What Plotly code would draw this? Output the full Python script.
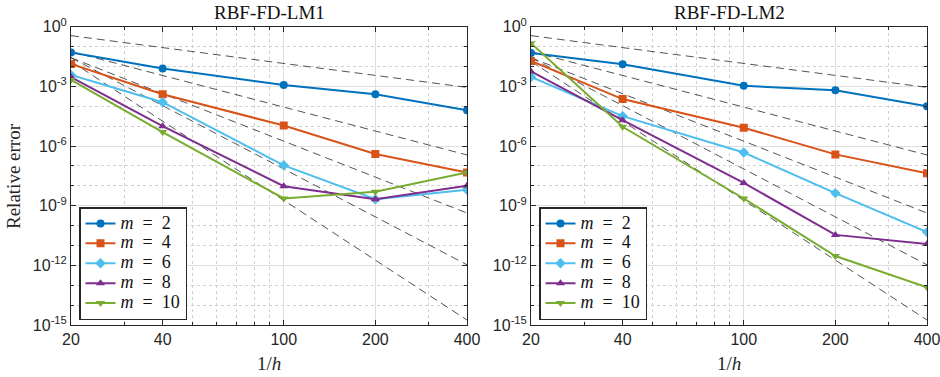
import plotly.graph_objects as go

N = [20, 40, 100, 200, 400]
m_labels = ["2", "4", "6", "8", "10"]
colors = ["#0072BD", "#D95319", "#4DBEEE", "#7E2F8E", "#77AC30"]
symbols = ["circle", "square", "diamond", "triangle-up", "triangle-down"]

lm1_m2 = [5.0e-2, 7.9e-3, 1.17e-3, 4.0e-4, 6.3e-5]
lm1_m4 = [1.35e-2, 4.0e-4, 1.07e-5, 4.0e-7, 4.7e-8]
lm1_m6 = [3.7e-3, 1.6e-4, 1.07e-7, 2.1e-9, 6.3e-9]
lm1_m8 = [2.95e-3, 1.0e-5, 9.5e-9, 2.1e-9, 1.0e-8]
lm1_m10 = [2.1e-3, 5.0e-6, 2.3e-9, 5.0e-9, 4.7e-8]

lm2_m2 = [4.7e-2, 1.3e-2, 1.07e-3, 6.3e-4, 1.0e-4]
lm2_m4 = [1.9e-2, 2.3e-4, 8.3e-6, 3.8e-7, 4.3e-8]
lm2_m6 = [2.95e-3, 3.2e-5, 4.7e-7, 4.3e-9, 4.7e-11]
lm2_m8 = [5.6e-3, 2.0e-5, 1.4e-8, 3.4e-11, 1.17e-11]
lm2_m10 = [1.48e-1, 9.3e-6, 2.3e-9, 2.95e-12, 7.9e-14]

ref_N = [20, 400]
ref_at_20 = [0.355, 0.0562, 0.0275, 0.0275, 0.0182]
ref_at_400 = [8.9e-4, 3.55e-7, 4.27e-10, 1.07e-12, 1.78e-15]

x_ticks = [20, 40, 100, 200, 400]
x_minor = [30, 50, 60, 70, 80, 90, 300]
y_ticks = [1e0, 1e-3, 1e-6, 1e-9, 1e-12, 1e-15]
y_ticktext = ["10<sup>0</sup>", "10<sup>-3</sup>", "10<sup>-6</sup>", "10<sup>-9</sup>",
              "10<sup>-12</sup>", "10<sup>-15</sup>"]
y_minor = [1e-1, 1e-2, 1e-4, 1e-5, 1e-7, 1e-8, 1e-10, 1e-11, 1e-13, 1e-14]

panels = [
    ("RBF-FD-LM1", [lm1_m2, lm1_m4, lm1_m6, lm1_m8, lm1_m10]),
    ("RBF-FD-LM2", [lm2_m2, lm2_m4, lm2_m6, lm2_m8, lm2_m10]),
]

W, H = 940, 377
x_domains = [(71 / W, 467 / W), (531 / W, 927 / W)]
y_domain = ((H - 325) / H, (H - 26.7) / H)

fig = go.Figure()
serif = "Liberation Serif"
sans = "Liberation Sans"
SP = "\u2002"

for p, (title, series) in enumerate(panels):
    xa = "x" if p == 0 else "x2"
    ya = "y" if p == 0 else "y2"
    lg = "legend" if p == 0 else "legend2"
    for a, b in zip(ref_at_20, ref_at_400):
        fig.add_trace(go.Scatter(x=ref_N, y=[a, b], mode="lines", xaxis=xa, yaxis=ya,
                                 line=dict(color="rgba(40,40,40,0.8)", width=1, dash="8px,5px"),
                                 showlegend=False, hoverinfo="skip"))
    for i, vals in enumerate(series):
        fig.add_trace(go.Scatter(
            x=N, y=vals, mode="lines+markers", xaxis=xa, yaxis=ya,
            name='<span style="font-size:18px"><i>m</i>' + SP + "=" + SP + m_labels[i] + "</span>",
            legend=lg,
            line=dict(color=colors[i], width=2),
            marker=dict(symbol=symbols[i], size=8, color=colors[i],
                        line=dict(width=0)),
        ))
    cx = (x_domains[p][0] + x_domains[p][1]) / 2
    fig.add_annotation(text=title, x=cx, y=1 - 13 / H, xref="paper", yref="paper",
                       showarrow=False, font=dict(family=serif, size=19, color="#111"),
                       xanchor="center", yanchor="middle")
    fig.add_annotation(text="1/<i>h</i>", x=cx, y=1 - 363 / H, xref="paper", yref="paper",
                       showarrow=False, font=dict(family=serif, size=19, color="#262626"),
                       xanchor="center", yanchor="middle")

fig.add_annotation(text="Relative error", x=13 / W, y=1 - 176 / H, xref="paper", yref="paper",
                   showarrow=False, textangle=-90, font=dict(family=serif, size=19, color="#262626"),
                   xanchor="center", yanchor="middle")

axis_common = dict(showline=True, linecolor="#262626", linewidth=1, mirror="ticks",
                   ticks="inside", ticklen=5, tickcolor="#262626", automargin=False,
                   ticklabeloverflow="allow",
                   showgrid=True, gridcolor="#dedede", gridwidth=1,
                   zeroline=False, tickfont=dict(family=sans, size=16, color="#262626"))

for p in range(2):
    xkey = "xaxis" if p == 0 else "xaxis2"
    ykey = "yaxis" if p == 0 else "yaxis2"
    fig.update_layout(**{
        xkey: dict(type="log", range=[1.30103, 2.60206], domain=x_domains[p],
                   tickmode="array", tickvals=x_ticks, ticktext=[str(v) for v in x_ticks],
                   anchor="y" if p == 0 else "y2",
                   minor=dict(tickmode="array", tickvals=x_minor, showgrid=True,
                              gridcolor="#d0d0d0", griddash="dot", gridwidth=1,
                              ticks="inside", ticklen=3, tickcolor="#262626"),
                   **axis_common),
        ykey: dict(type="log", range=[-15, 0], domain=y_domain,
                   tickmode="array", tickvals=y_ticks, ticktext=y_ticktext,
                   anchor="x" if p == 0 else "x2",
                   minor=dict(tickmode="array", tickvals=y_minor, showgrid=True,
                              gridcolor="#d0d0d0", griddash="dot", gridwidth=1,
                              ticks="inside", ticklen=3, tickcolor="#262626"),
                   **axis_common),
    })

legend_common = dict(bgcolor="white", bordercolor="#262626", borderwidth=1.5,
                     font=dict(family=serif, size=13, color="#111"),
                     xanchor="left", yanchor="top", tracegroupgap=0,
                     itemwidth=30)
fig.update_layout(
    width=W, height=H, margin=dict(l=0, r=0, t=0, b=0, autoexpand=False),
    paper_bgcolor="white", plot_bgcolor="white",
    legend=dict(x=79 / W, y=1 - 207 / H, **legend_common),
    legend2=dict(x=539 / W, y=1 - 207 / H, **legend_common),
)

fig.write_html("out.html", config={"displayModeBar": False},
               post_script="document.body.style.margin='0';document.body.style.padding='0';"
                           "document.documentElement.style.overflow='hidden';")
